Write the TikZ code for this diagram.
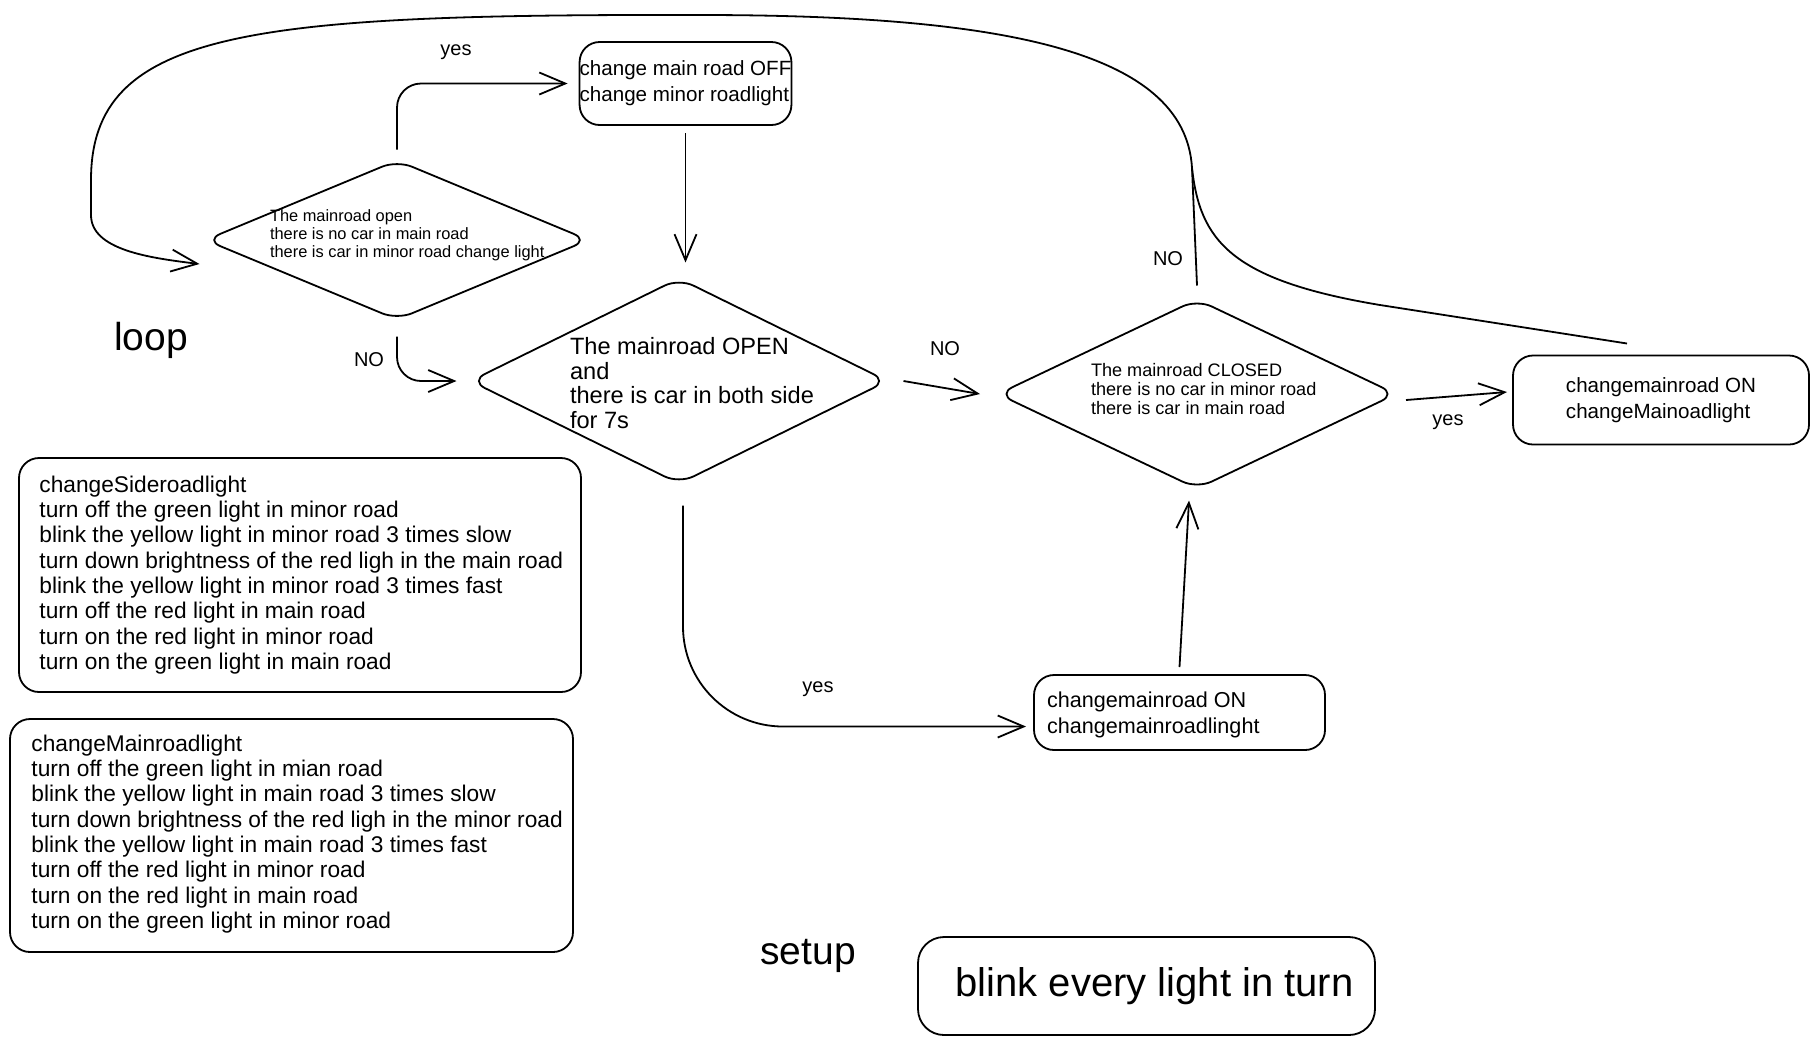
\documentclass[tikz,border=0pt]{standalone}
\usepackage{fontspec}
\setmainfont{Liberation Sans}
\usetikzlibrary{shapes.geometric,arrows.meta}
\begin{document}
\begin{tikzpicture}[x=0.5pt,y=-0.5pt,
  every node/.style={inner sep=0pt, outer sep=0pt},
  dia/.style={draw, diamond, line width=0.9pt, rounded corners=8pt, inner sep=0pt},
  rbox/.style={draw, line width=0.9pt, rounded corners=10pt, align=left},
  arr/.style={line width=0.9pt, -{Straight Barb[length=13pt,width=11pt,line width=0.9pt]}},
  con/.style={line width=0.9pt},
  lbl/.style={font=\fontsize{10}{12}\selectfont},
  big/.style={font=\fontsize{19.5}{23}\selectfont},
  boxtxt/.style={font=\fontsize{10.3}{13}\selectfont, align=left},
  listtxt/.style={font=\fontsize{11.35}{12.65}\selectfont, align=left, anchor=west}
]
\useasboundingbox (0,0) rectangle (1818,1046);

% decision diamonds
\node[dia, minimum width=191.5pt, minimum height=79.5pt] (d1) at (397,240) {};
\node[dia, minimum width=208.5pt, minimum height=102.5pt] (d2) at (679,381) {};
\node[dia, minimum width=199pt, minimum height=94.5pt] (d3) at (1197,394) {};

\node[anchor=west, align=left, font=\fontsize{8.2}{9}\selectfont] (d1t) at (270,235)
  {The mainroad open\\there is no car in main road\\there is car in minor road change light};
\node[anchor=west, align=left, font=\fontsize{11.8}{12.35}\selectfont] (d2t) at (570,383)
  {The mainroad OPEN\\and\\there is car in both side\\for 7s};
\node[anchor=west, align=left, font=\fontsize{9.05}{9.5}\selectfont] (d3t) at (1091,389)
  {The mainroad CLOSED\\there is no car in minor road\\there is car in main road};

% action boxes
\node[rbox, boxtxt, minimum width=105.5pt, minimum height=41.5pt] (btop) at (685.5,83.5)
  {change main road OFF\\change minor roadlight};
\node[rbox, boxtxt, minimum width=148pt, minimum height=44.5pt] (bright) at (1661,400)
  {changemainroad ON\\changeMainoadlight};
\node[rbox, minimum width=145.5pt, minimum height=37.5pt] (bbot) at (1179.5,712.5) {};
\node[boxtxt, anchor=west, font=\fontsize{10.8}{13}\selectfont] (bbott) at (1047,715) {changemainroad ON\\changemainroadlinght};
\node[rbox, rounded corners=13pt, minimum width=228.5pt, minimum height=49pt,
  font=\fontsize{20}{24}\selectfont] (bblink) at (1146.5,986) {\hspace*{8pt}blink every light in turn};

% function description boxes
\node[rbox, minimum width=281pt, minimum height=117pt] (bside) at (300,575) {};
\node[listtxt] (bsidet) at (39.5,575)
  {changeSideroadlight\\turn off the green light in minor road\\blink the yellow light in minor road 3 times slow\\turn down brightness of the red ligh in the main road\\blink the yellow light in minor road 3 times fast\\turn off the red light in main road\\turn on the red light in minor road\\turn on the green light in main road};
\node[rbox, minimum width=281.5pt, minimum height=116.5pt] (bmain) at (291.5,835.5) {};
\node[listtxt] (bmaint) at (31.5,834)
  {changeMainroadlight\\turn off the green light in mian road\\blink the yellow light in main road 3 times slow\\turn down brightness of the red ligh in the minor road\\blink the yellow light in main road 3 times fast\\turn off the red light in minor road\\turn on the red light in main road\\turn on the green light in minor road};

% free labels
\node[big] (loop) at (151,340) {loop};
\node[big] (setup) at (808,956) {setup};
\node[lbl] (yes1) at (456,52) {yes};
\node[lbl] (no1) at (369,360) {NO};
\node[lbl] (no2) at (945,349) {NO};
\node[lbl] (yes2) at (818,689) {yes};
\node[lbl] (no3) at (1168,259) {NO};
\node[lbl] (yes3) at (1448,422) {yes};

% connectors
\draw[arr, rounded corners=12pt] ([yshift=5.5pt]d1.north) |- ([xshift=-6pt]btop.west);
\draw[arr] ([yshift=-4pt]btop.south) -- ([yshift=8pt]btop.south |- d2.north);
\draw[arr, rounded corners=12pt] ([yshift=-8.5pt]d1.south) |- ([xshift=-7pt]d2.west);
\draw[arr] ([xshift=8pt]d2.east) -- ([xshift=-9pt]d3.west);
\draw[arr, rounded corners=50pt] ([xshift=2pt,yshift=-11pt]d2.south) |- ([xshift=-4pt,yshift=-7pt]bbot.west);
\draw[arr] ([yshift=4pt]bbot.north) -- ([xshift=-4pt,yshift=-6pt]d3.south);
\draw[arr] ([xshift=5pt,yshift=-3pt]d3.east) -- ([xshift=-3pt,yshift=4pt]bright.west);

\coordinate (merge) at (1192,168);
\draw[arr] ([yshift=7pt]d3.north) -- (merge)
  .. controls (1185,50) and (1000,15) .. (700,15)
  .. controls (250,14) and (91,30) .. (91,180)
  -- (91,215)
  .. controls (91,250) and (150,258) .. ([xshift=-3pt,yshift=-12pt]d1.west);
\draw[con] ([xshift=-17pt,yshift=6pt]bright.north) -- (1380,305)
  .. controls (1230,280) and (1200,240) .. (merge);
\end{tikzpicture}
\end{document}
